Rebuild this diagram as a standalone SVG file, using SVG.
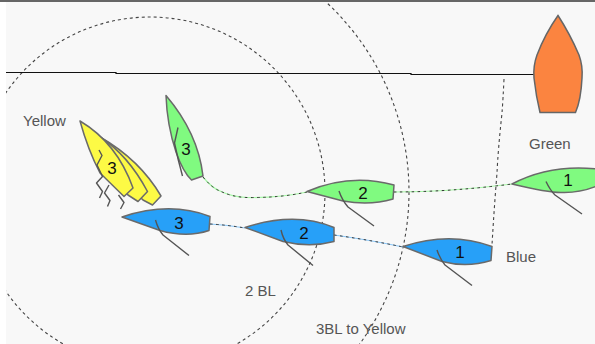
<svg xmlns="http://www.w3.org/2000/svg" width="595" height="344" viewBox="0 0 595 344">
<style>
.hull{stroke:#6a6a6a;stroke-width:1.5;stroke-linejoin:round}
.sail{fill:none;stroke:#555;stroke-width:1.4;stroke-linejoin:round}
.num{font:17px "Liberation Sans",Arial,sans-serif;fill:#111;text-anchor:middle}
.lab{font:15px "Liberation Sans",Arial,sans-serif;fill:#555}
.dash{fill:none;stroke:#444;stroke-width:1.1;stroke-dasharray:3 3}
.wake{fill:none;stroke-width:1.2}
.wd{fill:none;stroke:#333;stroke-width:1;stroke-dasharray:2.500 3.500}
.g{fill:#80fa80}.b{fill:#27a0f8}.y{fill:#fdfa45}
</style>
<rect width="595" height="344" fill="#f8f8f8"/>
<g id="connectors">
<circle class="dash" cx="150" cy="192" r="175"/>
<circle class="dash" cx="150" cy="192" r="259"/>
<path d="M6 72.500H116V73.500H411V74.500H534" fill="none" stroke="#111" stroke-width="1.200"/>
<path class="dash" d="M504 79Q503 100 502 113Q498 150 497 173Q494 210 492 245"/>
<path class="wake" stroke="#a8f8a8" d="M203 177Q212 188 220 191Q232 197 247 197.500Q280 198 307 192"/>
<path class="wd" d="M203 177Q212 188 220 191Q232 197 247 197.500Q280 198 307 192"/>
<path class="wake" stroke="#a8f8a8" d="M394 192Q450 192 512 184"/>
<path class="wd" d="M394 192Q450 192 512 184"/>
<path class="wake" stroke="#8cc8f8" d="M210 224Q228 225 245 228"/>
<path class="wd" d="M210 224Q228 225 245 228"/>
<path class="wake" stroke="#8cc8f8" d="M334 235Q370 240 403 247"/>
<path class="wd" d="M334 235Q370 240 403 247"/>
</g>
<g id="committee-boat">
<path d="M558 15.500Q545 34 537 55Q533 66 534 78Q536 96 540 112.500H575.500Q581 100 582 78Q583 66 579 55Q570 34 558 15.500Z" fill="#fb8440" stroke="#666" stroke-width="1.500"/>
</g>
<g id="yellow-boat">
<path class="hull y" d="M100 137Q140 160 161 196L152.500 205L143 200L128 185Z"/>
<path class="hull y" d="M100 137Q128 155 147.500 191.500L138 201.500L128 195L112 170Z"/>
<path class="hull y" d="M80 121Q117 143 133 188L124 196.500L100 173Q88 150 80 121Z"/>
<path class="sail" d="M99 150L102 155.500L97 165L102.500 176.500L96.500 183L102.500 191.500L99.500 198"/>
<path class="sail" d="M109 185L104.500 193L110 200.500L107.500 206.500"/>
<path class="sail" d="M118.500 195L124 202.500L120.500 209"/>
<text class="num" x="112" y="174">3</text>
</g>
<g id="green-3">
<path class="hull g" d="M166 95.500Q198 133 203 176L191.500 180Q183 172 176 152Q167 125 166 95.500Z"/>
<path class="sail" d="M178 127.500L174.500 143Q178 160 182.500 176"/>
<text class="num" x="186" y="155">3</text>
</g>
<g id="green-2">
<path class="hull g" d="M307 191.500Q350 173 394 185L393 199Q370 206 343 201Z"/>
<path class="sail" d="M339 191Q342 200 348 207L374 226"/>
<text class="num" x="363" y="198.500">2</text>
</g>
<g id="green-1">
<path class="hull g" d="M512 184Q550 164 597 169V186Q580 193 562 192.500Q550 193 512 184Z"/>
<path class="sail" d="M546 181.500Q550 190 555 195L582 214"/>
<text class="num" x="568" y="186">1</text>
</g>
<g id="blue-3">
<path class="hull b" d="M122 217Q170 201 210 216.500L209 230.500Q187 238 160 230.500Z"/>
<path class="sail" d="M155.500 220Q158 229 163 235L189 255.500"/>
<text class="num" x="179" y="228.500">3</text>
</g>
<g id="blue-2">
<path class="hull b" d="M245 227.500Q295 211 334 227.500V241.500Q310 248 283 241.500Z"/>
<path class="sail" d="M281 230Q283 239 288 245L313 265.500"/>
<text class="num" x="304" y="238.500">2</text>
</g>
<g id="blue-1">
<path class="hull b" d="M403 246.500Q450 231 492 246.500L491 260.500Q467 268 442 261.500Z"/>
<path class="sail" d="M437 250Q440 259 445 265L472 285.500"/>
<text class="num" x="460" y="258">1</text>
</g>
<g id="labels">
<text class="lab" x="23" y="126">Yellow</text>
<text class="lab" x="529" y="149">Green</text>
<text class="lab" x="506" y="262">Blue</text>
<text class="lab" x="245" y="296">2 BL</text>
<text class="lab" x="316" y="334">3BL to Yellow</text>
</g>
<rect width="6" height="344" fill="#fff"/>
<rect width="595" height="2" fill="#666"/>
</svg>
